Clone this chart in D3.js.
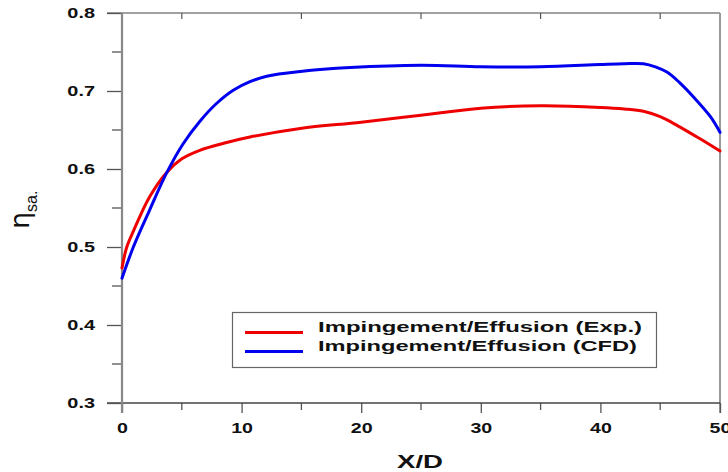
<!DOCTYPE html>
<html>
<head>
<meta charset="utf-8">
<script src="https://cdn.jsdelivr.net/npm/d3@7"></script>
<style>
  body { margin: 0; background: #fff; }
  svg { display: block; }
  text { font-family: "Liberation Sans", Arial, sans-serif; fill: #111; }
</style>
</head>
<body>
<svg id="chart" width="728" height="472"></svg>
<script>
// Film cooling effectiveness along the plate, experiment vs. CFD
const xExp = [0, 0.4, 1, 2.3, 3.7, 5, 6.5, 8.5, 10.7, 14.9, 20, 25, 30, 35, 40, 42, 43.6, 45, 46.4, 48.3, 50];
const yExp = [0.473, 0.500, 0.522, 0.564, 0.595, 0.613, 0.624, 0.633, 0.641, 0.652, 0.660, 0.669, 0.678, 0.681, 0.679, 0.677, 0.674, 0.667, 0.656, 0.639, 0.623];

const xCfd = [0, 0.95, 2.3, 3.7, 5.1, 6.5, 7.9, 9.3, 10.7, 12.1, 14.9, 19.1, 25, 30, 35, 40, 42, 43.6, 44.6, 45.6, 46.6, 47.8, 49.2, 50];
const yCfd = [0.46, 0.50, 0.547, 0.594, 0.632, 0.661, 0.684, 0.701, 0.712, 0.719, 0.725, 0.730, 0.733, 0.731, 0.731, 0.734, 0.735, 0.735, 0.731, 0.724, 0.711, 0.692, 0.667, 0.647];

const seriesNames = ["Impingement/Effusion (Exp.)", "Impingement/Effusion (CFD)"];
const seriesColors = ["#ee0000", "#0000ee"];

const xMajor = [0, 10, 20, 30, 40, 50];
const xMinor = [5, 15, 25, 35, 45];
const yMajor = [0.3, 0.4, 0.5, 0.6, 0.7, 0.8];
const yMinor = [0.35, 0.45, 0.55, 0.65, 0.75];

const svg = d3.select("#chart");
const x = d3.scaleLinear().domain([0, 50]).range([122, 720]);
const y = d3.scaleLinear().domain([0.3, 0.8]).range([403, 13]);

// stretch text horizontally by a factor
function widen(sel, f) {
  sel.each(function () {
    const w = this.getComputedTextLength();
    d3.select(this).attr("textLength", w * f).attr("lengthAdjust", "spacingAndGlyphs");
  });
}

// frame lines
svg.append("line").attr("x1", 107).attr("x2", 720).attr("y1", y(0.8)).attr("y2", y(0.8))
  .attr("stroke", "#444").attr("stroke-width", 1.2);
svg.append("line").attr("x1", 720).attr("x2", 720).attr("y1", y(0.8)).attr("y2", 413)
  .attr("stroke", "#999").attr("stroke-width", 2);

// top minor ticks pointing inward
svg.append("g").selectAll("line").data(xMinor).join("line")
  .attr("x1", d => x(d)).attr("x2", d => x(d)).attr("y1", y(0.8)).attr("y2", y(0.8) + 6)
  .attr("stroke", "#555").attr("stroke-width", 1.2);

// bottom axis
const gx = svg.append("g").attr("transform", `translate(0,${y(0.3)})`)
  .call(d3.axisBottom(x).tickValues(xMajor).tickSize(10).tickSizeOuter(0).tickPadding(10));
gx.select(".domain").remove();
gx.selectAll(".tick line").attr("stroke", "#555").attr("stroke-width", 1.3);
gx.selectAll(".tick text").attr("font-size", 14).attr("font-weight", "bold")
  .attr("font-family", "Liberation Sans, Arial, sans-serif").attr("fill", "#111");
widen(gx.selectAll(".tick text"), 1.4);
svg.append("g").selectAll("line").data(xMinor).join("line")
  .attr("x1", d => x(d)).attr("x2", d => x(d)).attr("y1", y(0.3)).attr("y2", y(0.3) + 7)
  .attr("stroke", "#555").attr("stroke-width", 1.3);
svg.append("line").attr("x1", 107).attr("x2", 720).attr("y1", y(0.3)).attr("y2", y(0.3))
  .attr("stroke", "#444").attr("stroke-width", 1.3);

// left axis
const gy = svg.append("g").attr("transform", `translate(${x(0)},0)`)
  .call(d3.axisLeft(y).tickValues(yMajor).tickSize(15).tickSizeOuter(0).tickPadding(12)
    .tickFormat(d3.format(".1f")));
gy.select(".domain").remove();
gy.selectAll(".tick line").attr("stroke", "#555").attr("stroke-width", 1.3);
gy.selectAll(".tick text").attr("font-size", 14).attr("font-weight", "bold")
  .attr("font-family", "Liberation Sans, Arial, sans-serif").attr("fill", "#111");
widen(gy.selectAll(".tick text"), 1.42);
svg.append("g").selectAll("line").data(yMinor).join("line")
  .attr("x1", x(0) - 10).attr("x2", x(0)).attr("y1", d => y(d)).attr("y2", d => y(d))
  .attr("stroke", "#555").attr("stroke-width", 1.3);
svg.append("line").attr("x1", x(0)).attr("x2", x(0)).attr("y1", y(0.8)).attr("y2", 413)
  .attr("stroke", "#888").attr("stroke-width", 2.2);

// curves
const line = d3.line().x(d => x(d[0])).y(d => y(d[1])).curve(d3.curveCatmullRom.alpha(0.5));
const series = [d3.zip(xExp, yExp), d3.zip(xCfd, yCfd)];
svg.append("g").selectAll("path").data(series).join("path")
  .attr("d", line).attr("fill", "none")
  .attr("stroke", (d, i) => seriesColors[i]).attr("stroke-width", 3)
  .attr("stroke-linejoin", "round").attr("stroke-linecap", "round");

// legend
const lg = svg.append("g");
lg.append("rect").attr("x", 232.5).attr("y", 312.5).attr("width", 424).attr("height", 55)
  .attr("fill", "#fff").attr("stroke", "#666").attr("stroke-width", 1.2);
const legendLengths = [324, 319];
seriesNames.forEach((name, i) => {
  const yy = 332.5 + i * 19;
  lg.append("line").attr("x1", 245).attr("x2", 303).attr("y1", yy).attr("y2", yy)
    .attr("stroke", seriesColors[i]).attr("stroke-width", 3);
  lg.append("text").attr("x", 318).attr("y", yy - 1)
    .attr("font-size", 15).attr("font-weight", "bold")
    .attr("textLength", legendLengths[i]).attr("lengthAdjust", "spacingAndGlyphs")
    .text(name);
});

// axis titles
const xt = svg.append("text").attr("x", 420).attr("y", 468).attr("text-anchor", "middle")
  .attr("font-size", 18).attr("font-weight", "bold").text("X/D");
widen(xt, 1.53);

const yt = svg.append("text").attr("transform", "translate(29,229) rotate(-90)");
yt.append("tspan").attr("font-size", 27).attr("font-family", "DejaVu Sans, sans-serif").text("η");
yt.append("tspan").attr("font-size", 16).attr("dy", 8).text("sa.");
</script>
</body>
</html>
